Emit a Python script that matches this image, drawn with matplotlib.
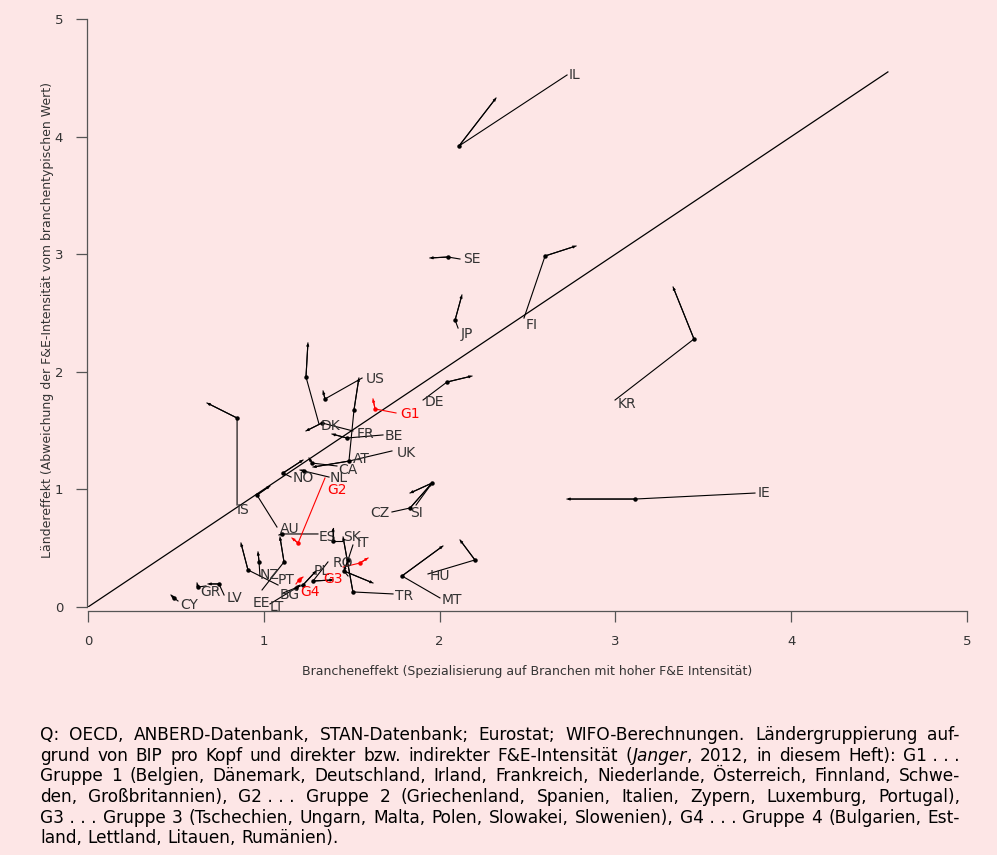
import numpy as np
import matplotlib
matplotlib.use('Agg')
import matplotlib.pyplot as plt

# Branchen-/Ländereffekt, drei Zeitpunkte je Land (p0 = beschriftet, p2 = Pfeilspitze)

countries = ['IL', 'SE', 'JP', 'FI', 'KR', 'DE', 'IE', 'US', 'AT', 'DK', 'FR', 'BE',
             'UK', 'CA', 'NL', 'NO', 'AU', 'IS', 'ES', 'SK', 'IT', 'TR', 'RO', 'PL',
             'BG', 'LT', 'EE', 'PT', 'NZ', 'GR', 'LV', 'CY', 'HU', 'MT', 'CZ', 'SI']
branch_0 = [2.725, 2.116, 2.105, 2.480, 2.998, 1.906, 3.794, 1.559, 1.485, 1.314, 1.507, 1.678,
            1.729, 1.416, 1.371, 1.155, 1.075, 0.848, 1.308, 1.445, 1.507, 1.735, 1.479, 1.365,
            1.109, 1.035, 0.990, 1.081, 0.978, 0.671, 0.774, 0.512, 1.934, 2.002, 1.729, 1.866]
land_0 = [4.524, 2.959, 2.372, 2.457, 1.760, 1.760, 0.969, 1.947, 1.250, 1.556, 1.497, 1.463,
          1.327, 1.199, 1.105, 1.105, 0.680, 0.867, 0.621, 0.561, 0.527, 0.111, 0.264, 0.383,
          0.119, 0.026, 0.145, 0.187, 0.264, 0.179, 0.102, 0.051, 0.281, 0.077, 0.808, 0.867]
branch_1 = [2.110, 2.048, 2.088, 2.600, 3.447, 2.042, 3.111, 1.348, 1.513, 1.240, 1.331, 1.473,
            1.485, 1.274, 1.229, 1.109, 0.961, 0.848, 1.104, 1.394, 1.479, 1.507, 1.456, 1.280,
            1.223, 1.183, 1.115, 0.910, 0.973, 0.626, 0.745, 0.489, 2.201, 1.786, 1.832, 1.957]
land_1 = [3.920, 2.976, 2.440, 2.985, 2.279, 1.913, 0.918, 1.769, 1.675, 1.956, 1.565, 1.437,
          1.241, 1.224, 1.156, 1.139, 0.952, 1.607, 0.621, 0.561, 0.400, 0.128, 0.306, 0.221,
          0.187, 0.162, 0.383, 0.315, 0.383, 0.170, 0.196, 0.077, 0.400, 0.264, 0.842, 1.054]
branch_2 = [2.321, 1.945, 2.127, 2.776, 3.328, 2.184, 2.725, 1.337, 1.541, 1.251, 1.240, 1.388,
            1.280, 1.257, 1.206, 1.223, 1.035, 0.677, 1.086, 1.394, 1.456, 1.451, 1.621, 1.394,
            1.297, 1.206, 1.092, 0.870, 0.967, 0.620, 0.683, 0.472, 2.116, 2.019, 1.957, 1.832]
land_2 = [4.328, 2.968, 2.653, 3.070, 2.721, 1.964, 0.918, 1.837, 1.947, 2.245, 1.497, 1.471,
          1.190, 1.267, 1.165, 1.250, 1.029, 1.735, 0.612, 0.672, 0.306, 0.595, 0.204, 0.230,
          0.306, 0.187, 0.595, 0.544, 0.468, 0.204, 0.196, 0.102, 0.570, 0.519, 1.054, 0.969]

groups = ['G1', 'G2', 'G3', 'G4']
g_branch_0 = [1.752, 1.348, 1.451, 1.183]
g_land_0 = [1.650, 1.097, 0.340, 0.196]
g_branch_1 = [1.633, 1.195, 1.547, 1.200]
g_land_1 = [1.684, 0.544, 0.374, 0.230]
g_branch_2 = [1.621, 1.160, 1.593, 1.223]
g_land_2 = [1.769, 0.587, 0.417, 0.255]

diag_max = 4.55

# label offsets in pixels (dx, dy), y up
label_offset = {
    'IL': (2, 0), 'SE': (3, 0), 'JP': (3, -6), 'FI': (2, -7), 'KR': (3, -4), 'DE': (2, -2),
    'IE': (3, 0), 'US': (4, -1), 'AT': (4, 1), 'DK': (2, -2), 'FR': (4, -3), 'BE': (2, -1),
    'UK': (5, -2), 'CA': (1, -4), 'NL': (1, -1), 'NO': (2, -1), 'AU': (3, -2), 'IS': (0, -5),
    'ES': (1, -3), 'SK': (1, 4), 'IT': (4, 2), 'TR': (2, -2), 'RO': (-15, 13), 'PL': (-14, -9),
    'BG': (-3, -2), 'LT': (0, -3), 'EE': (-9, -13), 'PT': (0, 5), 'NZ': (0, 1), 'GR': (-6, -6),
    'LV': (3, -3), 'CY': (2, -4), 'HU': (2, -2), 'MT': (2, -2), 'CZ': (-22, -1), 'SI': (-6, -8),
    'G1': (4, -1), 'G2': (2, -12), 'G3': (-20, -12), 'G4': (4, -8),
}

bg = '#fde6e6'
txt = '#333333'

fig = plt.figure(figsize=(9.97, 8.55), dpi=100, facecolor=bg)
ax = fig.add_axes([88 / 997, 1 - 607 / 855, 879 / 997, 588 / 855])
ax.set_facecolor(bg)


def draw_path(xs, ys, name, color):
    ax.plot(xs, ys, color=color, lw=0.8, solid_joinstyle='miter')
    ax.plot(xs[1], ys[1], 'o', color=color, ms=2.2)
    ax.annotate('', xy=(xs[2], ys[2]), xytext=(xs[1], ys[1]),
                arrowprops=dict(arrowstyle='-|>', color=color, lw=0.8,
                                mutation_scale=3.5, shrinkA=0, shrinkB=0))
    dx, dy = label_offset[name]
    ax.annotate(name, (xs[0], ys[0]), xytext=(dx, dy), textcoords='offset pixels',
                ha='left', va='center', fontsize=10,
                color=txt if color == 'black' else color)


ax.plot([0, diag_max], [0, diag_max], color='black', lw=0.9)

for i, c in enumerate(countries):
    draw_path([branch_0[i], branch_1[i], branch_2[i]],
              [land_0[i], land_1[i], land_2[i]], c, 'black')

for i, g in enumerate(groups):
    draw_path([g_branch_0[i], g_branch_1[i], g_branch_2[i]],
              [g_land_0[i], g_land_1[i], g_land_2[i]], g, '#ff0000')

ax.set_xlim(0, 5)
ax.set_ylim(0, 5)
ax.set_xticks(range(6))
ax.set_yticks(range(6))
for s in ['top', 'right']:
    ax.spines[s].set_visible(False)
for s in ['left', 'bottom']:
    ax.spines[s].set_color('#555555')
    ax.spines[s].set_linewidth(0.9)
ax.spines['bottom'].set_position(('outward', 3))
ax.spines['left'].set_position(('outward', 1))
ax.tick_params(direction='out', length=8, width=0.9, color='#555555',
               labelcolor=txt, labelsize=9.5, pad=9)

fig.text(527 / 997, 1 - 671 / 855,
         'Brancheneffekt (Spezialisierung auf Branchen mit hoher F&E Intensität)',
         ha='center', va='center', fontsize=9, color=txt)
fig.text(48 / 997, 1 - 320 / 855,
         'Ländereffekt (Abweichung der F&E-Intensität vom branchentypischen Wert)',
         ha='center', va='center', rotation=90, fontsize=9, color=txt)

# Quelle / Fußnote, Blocksatz
caption = [
    'Q: OECD, ANBERD-Datenbank, STAN-Datenbank; Eurostat; WIFO-Berechnungen. Ländergruppierung auf-',
    'grund von BIP pro Kopf und direkter bzw. indirekter F&E-Intensität (*Janger*, 2012, in diesem Heft): G1\u00a0.\u00a0.\u00a0.',
    'Gruppe 1 (Belgien, Dänemark, Deutschland, Irland, Frankreich, Niederlande, Österreich, Finnland, Schwe-',
    'den, Großbritannien), G2\u00a0.\u00a0.\u00a0. Gruppe 2 (Griechenland, Spanien, Italien, Zypern, Luxemburg, Portugal),',
    'G3\u00a0.\u00a0.\u00a0. Gruppe 3 (Tschechien, Ungarn, Malta, Polen, Slowakei, Slowenien), G4\u00a0.\u00a0.\u00a0. Gruppe 4 (Bulgarien, Est-',
    'land, Lettland, Litauen, Rumänien).',
]
cap_y = [735, 756, 776, 797, 818, 838]
cap_x0, cap_x1 = 40, 960

renderer = fig.canvas.get_renderer()
W, H = fig.bbox.width, fig.bbox.height

# Schriftgröße so wählen, dass die längste Zeile mit normalem Wortabstand passt
probe = fig.text(0, 0, '', fontsize=10)
natural = []
for line in caption:
    probe.set_text(line.replace('*', ''))
    natural.append(probe.get_window_extent(renderer).width)
probe.remove()
cap_size = 10 * (cap_x1 - cap_x0) / max(natural) * 0.99

for li, line in enumerate(caption):
    words = []
    for w in line.split(' '):
        parts = []
        for k, p in enumerate(w.split('*')):
            if p == '':
                continue
            t = fig.text(0, 0, p, fontsize=cap_size, color='black',
                         style='italic' if k % 2 else 'normal', va='center')
            parts.append((t, t.get_window_extent(renderer).width))
        words.append(parts)
    widths = [sum(pw for _, pw in parts) for parts in words]
    if li < len(caption) - 1:
        gap = (cap_x1 - cap_x0 - sum(widths)) / (len(words) - 1)
    else:
        gap = renderer.points_to_pixels(cap_size) * 0.32
    x = cap_x0
    for parts, wd in zip(words, widths):
        xx = x
        for t, pw in parts:
            t.set_position((xx / W, 1 - cap_y[li] / H))
            xx += pw
        x += wd + gap

fig.savefig('out.png', dpi=100, facecolor=bg)
